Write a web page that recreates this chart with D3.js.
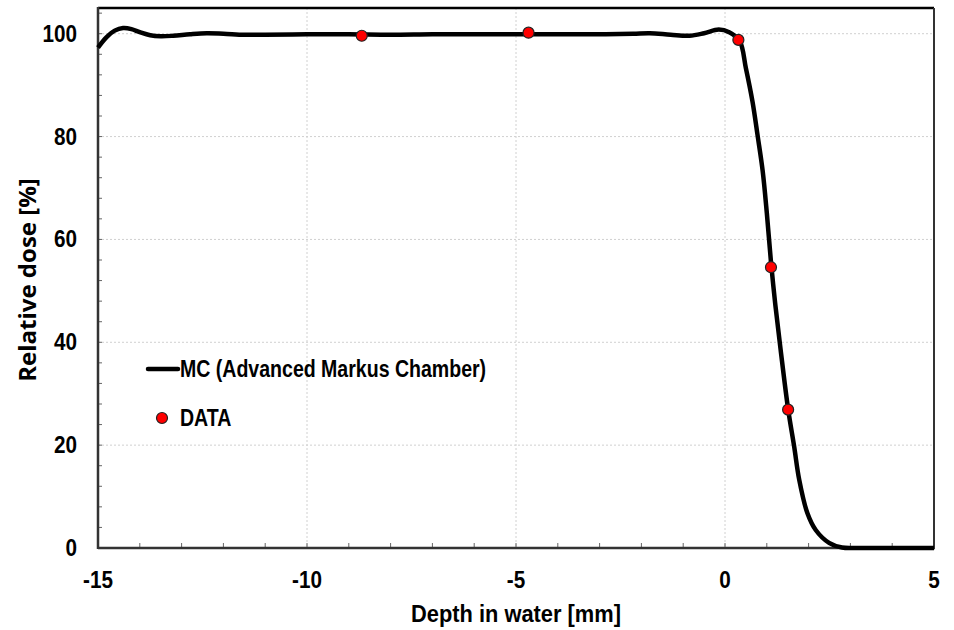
<!DOCTYPE html>
<html>
<head>
<meta charset="utf-8">
<script src="https://cdn.jsdelivr.net/npm/d3@7"></script>
<style>
  body { margin: 0; background: #fff; }
  svg { display: block; }
  .tick-label { font-family: "Liberation Sans", Arial, sans-serif; font-weight: bold; font-size: 23px; fill: #000; }
  .legend-label { font-family: "Liberation Sans", Arial, sans-serif; font-weight: bold; font-size: 23px; fill: #000; }
</style>
</head>
<body>
<svg id="chart"></svg>
<script>
// MC curve (Advanced Markus Chamber)
var mcDepth = [-15, -14.8, -14.6, -14.4, -14.2, -14.0, -13.75, -13.5, -13.2, -12.8, -12.4, -12.0, -11.5, -11.0,
               -10, -9, -8, -7, -6, -5, -4, -3, -2.2, -1.8, -1.3, -0.85, -0.5, -0.15, 0.1, 0.35,
               0.5, 0.66, 0.78, 0.9, 1.0, 1.1, 1.2, 1.33, 1.51, 1.655, 1.775, 1.97, 2.17, 2.49, 2.8, 3.1, 4, 5];
var mcDose  = [97.3, 99.3, 100.6, 101.1, 100.9, 100.3, 99.7, 99.5, 99.6, 99.9, 100.1, 100.0, 99.8, 99.8,
               99.9, 99.9, 99.8, 99.9, 99.9, 99.9, 99.9, 99.9, 100.0, 100.1, 99.8, 99.6, 100.1, 100.8, 100.3, 98.6,
               93.3, 86.7, 80.2, 73.4, 65.2, 55.6, 47.6, 38.6, 27.0, 19.7, 13.3, 6.8, 3.5, 1.0, 0.1, 0, 0, 0];

// measured points
var dataDepth = [-8.69, -4.70, 0.32, 1.10, 1.51];
var dataDose  = [99.6, 100.2, 98.8, 54.6, 26.9];

var xTicks = [-15, -10, -5, 0, 5];
var yTicks = [0, 20, 40, 60, 80, 100];

var width = 954, height = 630;
var margin = {left: 98, right: 20, top: 8, bottom: 82};

var svg = d3.select("#chart").attr("width", width).attr("height", height);

var x = d3.scaleLinear().domain([-15, 5]).range([margin.left, width - margin.right]);
var y = d3.scaleLinear().domain([0, 105]).range([height - margin.bottom, margin.top]);

var x0 = x.range()[0], x1 = x.range()[1];
var y0 = y.range()[0], y1 = y.range()[1];

// grid
svg.append("g").selectAll("line").data(xTicks.filter(function(d) { return d > -15 && d < 5; }))
  .enter().append("line")
  .attr("x1", function(d) { return x(d); }).attr("x2", function(d) { return x(d); })
  .attr("y1", y1).attr("y2", y0)
  .attr("stroke", "#d0d0d0").attr("stroke-width", 1).attr("stroke-dasharray", "2,2");
svg.append("g").selectAll("line").data(yTicks.filter(function(d) { return d > 0; }))
  .enter().append("line")
  .attr("x1", x0).attr("x2", x1)
  .attr("y1", function(d) { return y(d); }).attr("y2", function(d) { return y(d); })
  .attr("stroke", "#d0d0d0").attr("stroke-width", 1).attr("stroke-dasharray", "2,2");

// minor ticks, inside
svg.append("g").selectAll("line").data(d3.range(-14, 5, 1))
  .enter().append("line")
  .attr("x1", function(d) { return x(d); }).attr("x2", function(d) { return x(d); })
  .attr("y1", y0).attr("y2", y0 - 5)
  .attr("stroke", "#666").attr("stroke-width", 1);
svg.append("g").selectAll("line").data(d3.range(4, 105, 4))
  .enter().append("line")
  .attr("x1", x0).attr("x2", x0 + 4)
  .attr("y1", function(d) { return y(d); }).attr("y2", function(d) { return y(d); })
  .attr("stroke", "#666").attr("stroke-width", 1);

// frame
svg.append("line").attr("x1", x0).attr("x2", x1).attr("y1", y1).attr("y2", y1)
  .attr("stroke", "#000").attr("stroke-width", 2.5);
svg.append("line").attr("x1", x1).attr("x2", x1).attr("y1", y1).attr("y2", y0)
  .attr("stroke", "#333").attr("stroke-width", 2);
svg.append("line").attr("x1", x0).attr("x2", x0).attr("y1", y1 - 1).attr("y2", y0 + 1)
  .attr("stroke", "#333").attr("stroke-width", 2.5);
svg.append("line").attr("x1", x0).attr("x2", x1 + 1).attr("y1", y0).attr("y2", y0)
  .attr("stroke", "#333").attr("stroke-width", 2.5);

// tick labels (condensed bold, like the original)
svg.append("g").selectAll("text").data(xTicks).enter().append("text")
  .attr("class", "tick-label")
  .attr("transform", function(d) { return "translate(" + x(d) + "," + (y0 + 40) + ") scale(0.9,1)"; })
  .attr("text-anchor", "middle")
  .text(function(d) { return d; });
svg.append("g").selectAll("text").data(yTicks).enter().append("text")
  .attr("class", "tick-label")
  .attr("transform", function(d) { return "translate(" + (x0 - 21) + "," + (y(d) + 8) + ") scale(0.9,1)"; })
  .attr("text-anchor", "end")
  .text(function(d) { return d; });

// axis titles
svg.append("text")
  .attr("transform", "translate(" + ((x0 + x1) / 2) + ",622) scale(0.91,1)")
  .attr("text-anchor", "middle")
  .style("font-family", "'Liberation Sans', Arial, sans-serif")
  .style("font-weight", "bold").style("font-size", "24px")
  .text("Depth in water [mm]");
svg.append("text")
  .attr("transform", "translate(36," + ((y0 + y1) / 2 + 2) + ") rotate(-90)")
  .attr("text-anchor", "middle")
  .style("font-family", "'Open Sans', 'DejaVu Sans', sans-serif")
  .style("font-weight", "bold").style("font-size", "24px")
  .text("Relative dose [%]");

// MC curve
var line = d3.line()
  .x(function(d, i) { return x(mcDepth[i]); })
  .y(function(d, i) { return y(mcDose[i]); })
  .curve(d3.curveCatmullRom.alpha(0.5));
svg.append("path")
  .attr("d", line(mcDepth))
  .attr("fill", "none").attr("stroke", "#000").attr("stroke-width", 4.5)
  .attr("stroke-linejoin", "round");

// data points
svg.append("g").selectAll("circle").data(dataDepth).enter().append("circle")
  .attr("cx", function(d) { return x(d); })
  .attr("cy", function(d, i) { return y(dataDose[i]); })
  .attr("r", 5.5)
  .attr("fill", "#ff0000").attr("stroke", "#222").attr("stroke-width", 1.2);

// legend
svg.append("line").attr("x1", 148).attr("x2", 178).attr("y1", 369).attr("y2", 369)
  .attr("stroke", "#000").attr("stroke-width", 4.5).attr("stroke-linecap", "round");
svg.append("text").attr("class", "legend-label")
  .attr("transform", "translate(180,377) scale(0.85,1)")
  .text("MC (Advanced Markus Chamber)");
svg.append("circle").attr("cx", 162).attr("cy", 418).attr("r", 5.5)
  .attr("fill", "#ff0000").attr("stroke", "#222").attr("stroke-width", 1.2);
svg.append("text").attr("class", "legend-label")
  .attr("transform", "translate(180,426) scale(0.85,1)")
  .text("DATA");
</script>
</body>
</html>
